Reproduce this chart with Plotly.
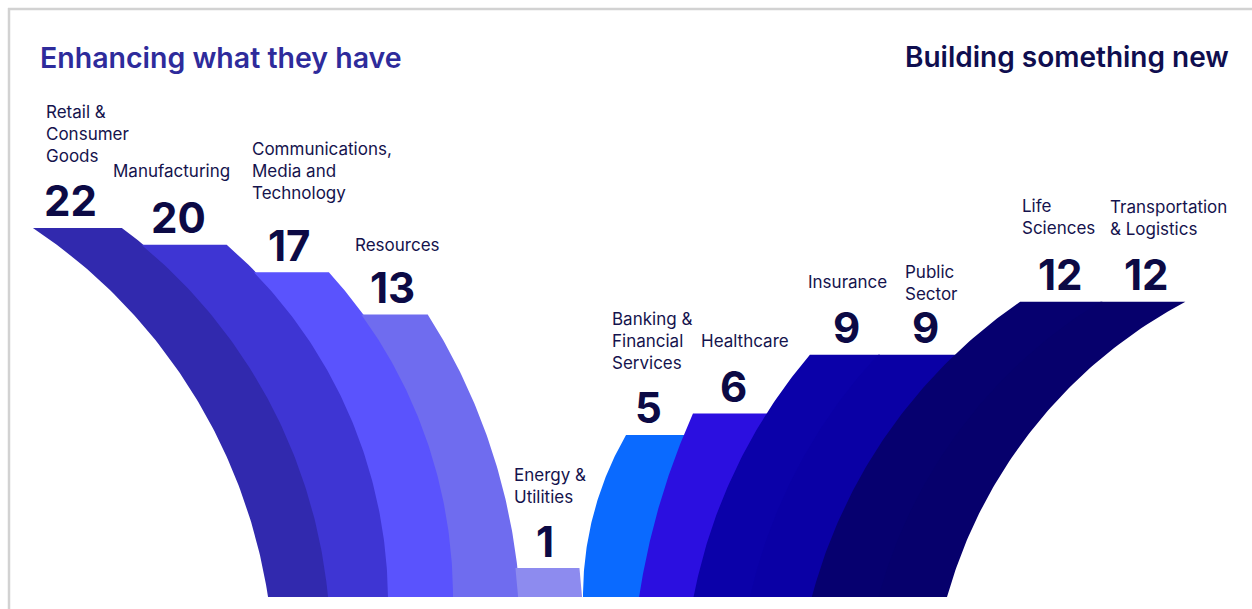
import numpy as np
import plotly.graph_objects as go

# ---- data -------------------------------------------------------------
enhance_labels = ["Retail &<br>Consumer<br>Goods", "Manufacturing",
                  "Communications,<br>Media and<br>Technology", "Resources",
                  "Energy &<br>Utilities"]
enhance_values = [22, 20, 17, 13, 1]

build_labels = ["Banking &<br>Financial<br>Services", "Healthcare", "Insurance",
                "Public<br>Sector", "Life<br>Sciences", "Transportation<br>& Logistics"]
build_values = [5, 6, 9, 9, 12, 12]

# ---- styling ----------------------------------------------------------
enhance_colors = ["#3129ae", "#3e35d3", "#5a53fd", "#6f6cef", "#8d8bef"]
build_colors = ["#0a6aff", "#2b0fe0", "#0b01a9", "#0a00a5", "#06006f", "#06006c"]

W, H = 1252, 609
BASE = 597                      # foot line of all bands
OVERLAP = 2                     # px tucked under the neighbouring band to hide seams
FONT = "Inter"
NUM_COLOR = "#0c0a45"
LABEL_COLOR = "#15134d"

# band edges are circular arcs (centre x, centre y, radius)
L_EDGES = [(-267.2, 678.5, 541.4), (-189.6, 646.8, 522.0), (-82.4, 602.0, 472.4),
           (-26.3, 597.1, 481.3), (-78.0, 636.0, 599.3), (-16.0, 636.0, 599.3)]
R_EDGES = [(904.0, 595.5, 321.0), (1343.0, 704.0, 712.0), (1212.0, 697.0, 528.0),
           (1262.0, 713.0, 525.0), (1313.0, 729.5, 518.4), (1360.0, 728.0, 499.0),
           (1410.5, 727.4, 481.5)]

# horizontal nudges of the value numbers
enhance_num_dx = [-7, -7, -3, -3, -3]
build_num_dx = [-6, 4, 2, 9, 0, 4]

# category label anchors (left edge x, vertical middle y)
enhance_label_pos = [(44, 134), (111, 171), (250, 171), (353, 245), (512, 486)]
build_label_pos = [(610, 341), (699, 341), (806, 282), (903, 283), (1020, 217), (1108, 218)]


def left_height(v):
    return 174.4 * v ** 0.35 - 145.4


def right_height(v):
    return 51.06 * v ** 0.7 + 4.5


def left_edge(edge, ys):
    cx, cy, r = edge
    return cx + np.sqrt(r ** 2 - (cy - ys) ** 2)


def right_edge(edge, ys):
    cx, cy, r = edge
    return cx - np.sqrt(r ** 2 - (cy - ys) ** 2)


fig = go.Figure()
annotations = []


def add_band(edge_fn, e_a, e_b, value, height_fn, color, label, label_pos, num_dx,
             pad_a=0.0, pad_b=0.0):
    y_top = BASE - height_fn(value)
    ys = np.linspace(y_top, BASE, 90)
    xa = edge_fn(e_a, ys)
    xb = edge_fn(e_b, ys)
    xa_d = xa - pad_a
    xb_d = xb + pad_b
    xs = np.concatenate([xa_d, xb_d[::-1], xa_d[:1]])
    yy = np.concatenate([ys, ys[::-1], ys[:1]])
    fig.add_trace(go.Scatter(x=xs, y=yy, mode="lines", fill="toself",
                             fillcolor=color, line=dict(width=0, color=color),
                             hoverinfo="skip", showlegend=False))
    annotations.append(dict(x=(xa[0] + xb[0]) / 2 + num_dx, y=y_top - 27, text=str(value),
                            showarrow=False, xanchor="center", yanchor="middle",
                            font=dict(family=FONT, size=42, color=NUM_COLOR, weight=700)))
    annotations.append(dict(x=label_pos[0], y=label_pos[1], text=label, align="left",
                            showarrow=False, xanchor="left", yanchor="middle",
                            font=dict(family=FONT, size=17, color=LABEL_COLOR)))


# left fan: each shorter band tucks its left edge under the taller one before it
for i, (lab, val) in enumerate(zip(enhance_labels, enhance_values)):
    add_band(left_edge, L_EDGES[i], L_EDGES[i + 1], val, left_height,
             enhance_colors[i], lab, enhance_label_pos[i], enhance_num_dx[i],
             pad_a=OVERLAP if i > 0 else 0.0)

# right fan: each band slides its right edge under the taller one after it
n_build = len(build_values)
for i, (lab, val) in enumerate(zip(build_labels, build_values)):
    add_band(right_edge, R_EDGES[i], R_EDGES[i + 1], val, right_height,
             build_colors[i], lab, build_label_pos[i], build_num_dx[i],
             pad_b=OVERLAP if i < n_build - 1 else 0.0)

annotations.append(dict(x=38, y=57, text="Enhancing what they have", showarrow=False,
                        xanchor="left", yanchor="middle",
                        font=dict(family=FONT, size=28.5, color="#2e2b9b", weight=600)))
annotations.append(dict(x=1231, y=57, text="Building something new", showarrow=False,
                        xanchor="right", yanchor="middle",
                        font=dict(family=FONT, size=28, color="#0f0e4f", weight=600)))

# frame lines along the top and left edges
shapes = [
    dict(type="line", x0=8, y0=9, x1=W + 10, y1=9, line=dict(color="#d2d2d2", width=2.5)),
    dict(type="line", x0=9, y0=8, x1=9, y1=H + 10, line=dict(color="#d2d2d2", width=2.5)),
]

fig.update_layout(
    width=W, height=H, autosize=False,
    margin=dict(l=0, r=0, t=0, b=0),
    paper_bgcolor="white", plot_bgcolor="white",
    xaxis=dict(range=[0, W], visible=False, fixedrange=True),
    yaxis=dict(range=[H, 0], visible=False, fixedrange=True),
    annotations=annotations, shapes=shapes,
)

fig.write_html("out.html", config=dict(displayModeBar=False))
